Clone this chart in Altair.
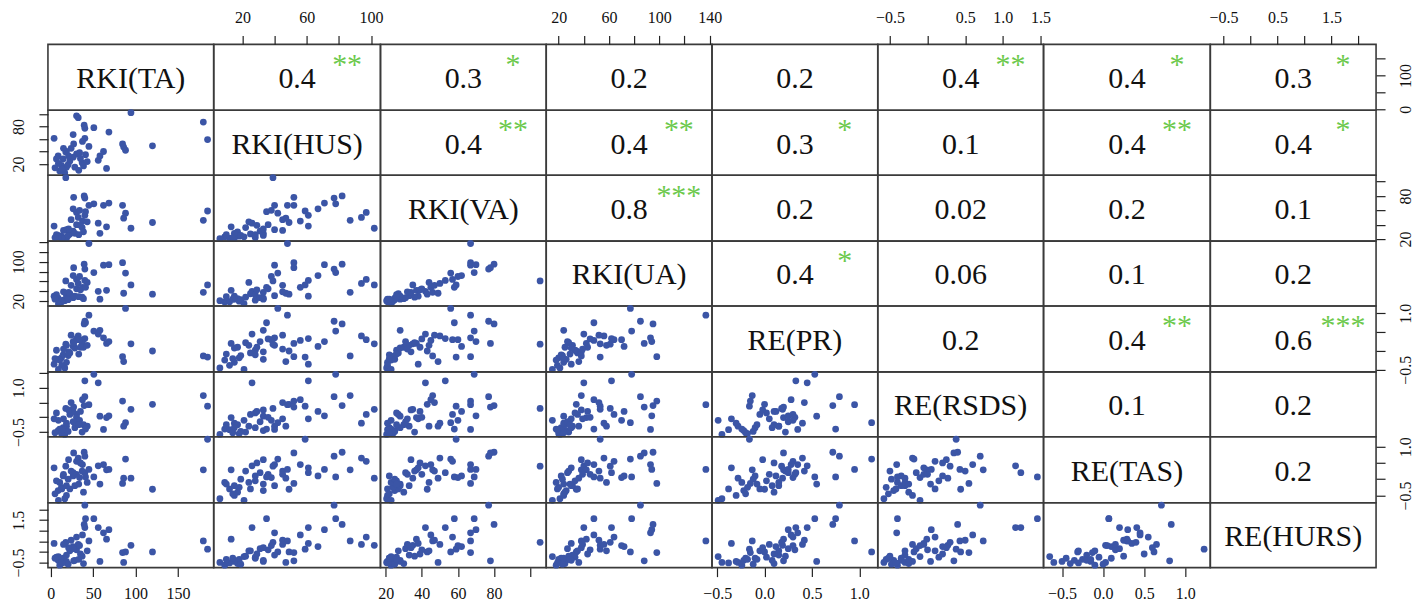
import altair as alt
import pandas as pd

# ---------------- data ----------------
names = ["RKI(TA)", "RKI(HUS)", "RKI(VA)", "RKI(UA)", "RE(PR)", "RE(RSDS)", "RE(TAS)", "RE(HURS)"]
keys = ["TA", "HUS", "VA", "UA", "PR", "RSDS", "TAS", "HURS"]

TA = [180, 185, 120, 94.6, 84.7, 88.2, 86, 50.8, 56, 58, 62.2, 65.8, 68.6, 30.4, 32.4, 39.4, 40.2,
      3.9, 26.4, 40.2, 37.4, 18.5, 8.7, 30.4, 14.6, 22.5, 37, 38.6, 12.6, 18.5, 10.6, 16.5, 6.7,
      26.4, 20.5, 28.4, 17.7, 24, 34, 13, 21, 43, 9, 35, 45, 5, 27, 15, 33, 41]
HUS = [87, 59, 49, 102, 52, 42, 47, 78, 26, 33, 40, 13, 71, 97, 94, 82, 77,
       61, 67, 61, 56, 40, 33, 36, 28, 25, 22, 17, 18, 15, 9, 6, 28,
       31, 19, 15, 39, 45, 38, 12, 33, 24, 21, 29, 48, 14, 52, 45, 10, 35]
VA = [46, 59, 43, 35, 67, 56, 49, 69, 42, 28, 67, 37, 70, 57, 50, 80, 77,
      38, 62, 53, 45, 33, 25, 40, 22, 27, 36, 30, 24, 21, 23, 20.5, 26,
      31, 25, 28, 105.5, 47, 60, 21, 34, 44, 23, 39, 67, 22, 78, 32, 26, 58]
UA = [38, 53, 34, 53, 98, 77, 36, 78, 40, 24, 93, 42, 94, 64, 56, 95, 85,
      30, 72, 62, 48, 31, 26, 45, 22, 35, 28, 25, 20, 24, 18, 21, 33,
      27, 23, 30, 61, 52, 70, 19, 38, 58, 15, 43, 137, 24, 88, 39, 29, 48]
PR = [-0.13, -0.16, 0.00, 0.19, -0.15, 1.13, -0.28, 0.53, 0.45, 0.55, 0.35, 0.20, 0.25, 0.30, 0.40, 0.72, 0.79,
      -0.35, 0.12, 0.33, 0.28, 0.15, -0.22, 0.32, -0.10, -0.05, 0.22, 0.10, -0.18, -0.30, -0.24, -0.45, 0.02,
      0.25, -0.12, 0.08, 0.18, 0.42, 0.30, -0.38, -0.02, 0.15, -0.49, 0.10, 0.95, -0.20, 0.20, 0.05, -0.08, 0.75]
RSDS = [0.74, 0.38, 0.44, 0.27, 0.55, -0.18, -0.30, 1.46, 1.17, 0.04, -0.41, -0.01, 0.05, 0.10, -0.20, 0.40, 0.70,
        -0.05, 0.20, 1.24, 0.60, -0.30, -0.45, 0.00, -0.35, 0.10, -0.50, -0.25, -0.55, -0.20, -0.40, -0.58, 0.15,
        -0.15, -0.48, -0.35, 0.30, 0.50, -0.10, -0.42, 0.25, -0.30, -0.10, 0.20, 0.43, -0.52, 0.35, -0.05, -0.25, -0.40]
TAS = [0.29, 1.23, -0.31, 0.03, -0.13, 0.62, 0.03, 0.07, 0.41, -0.15, 0.45, 0.29, 0.30, 0.55, 0.65, 0.83, 0.71,
       0.35, 0.10, 0.20, 0.45, -0.20, -0.35, 0.15, 0.10, -0.30, 0.25, -0.40, -0.25, -0.50, -0.10, -0.60, -0.05,
       0.20, 0.00, -0.20, 0.40, 0.25, 0.05, -0.30, 0.60, -0.10, -0.65, 0.50, 0.30, -0.45, 0.81, 0.15, -0.15, 0.07]
HURS = [0.52, 0.13, 0.00, 0.31, -0.03, 0.00, -0.50, 1.57, 1.15, -0.45, 0.90, 0.60, 1.05, 0.70, 0.35, 1.30, 2.21,
        0.40, 0.25, 1.15, 0.80, -0.15, -0.40, 0.10, -0.30, 0.05, -0.20, -0.55, -0.35, -0.45, -0.63, -0.50, -0.25,
        0.15, -0.58, -0.40, 0.45, 0.55, 0.30, -0.52, 0.20, 0.05, -0.22, -0.10, 0.52, -0.30, -0.42, 0.35, -0.35, 1.57]

# upper-triangle correlation texts and significance stars, row by row
corr_rows = [
    ["0.4", "0.3", "0.2", "0.2", "0.4", "0.4", "0.3"],
    ["0.4", "0.4", "0.3", "0.1", "0.4", "0.4"],
    ["0.8", "0.2", "0.02", "0.2", "0.1"],
    ["0.4", "0.06", "0.1", "0.2"],
    ["0.2", "0.4", "0.6"],
    ["0.1", "0.2"],
    ["0.2"],
]
star_rows = [
    ["**", "*", "", "", "**", "*", "*"],
    ["**", "**", "*", "", "**", "*"],
    ["***", "", "", "", ""],
    ["*", "", "", ""],
    ["", "**", "***"],
    ["", ""],
    [""],
]

# axis ticks and the labels that are printed on each side
ticks = {
    "TA": [0, 50, 100, 150],
    "HUS": [20, 40, 60, 80, 100],
    "VA": [20, 40, 60, 80, 100],
    "UA": [20, 40, 60, 80, 100, 120, 140],
    "PR": [-0.5, 0.0, 0.5, 1.0],
    "RSDS": [-0.5, 0.0, 0.5, 1.0, 1.5],
    "TAS": [-0.5, 0.0, 0.5, 1.0],
    "HURS": [-0.5, 0.0, 0.5, 1.0, 1.5, 2.0],
}
labels_bottom = {"TA": [0, 50, 100, 150], "VA": [20, 40, 60, 80], "PR": [-0.5, 0.0, 0.5, 1.0], "TAS": [-0.5, 0.0, 0.5, 1.0]}
labels_top = {"HUS": [20, 60, 100], "UA": [20, 60, 100, 140], "RSDS": [-0.5, 0.5, 1.0, 1.5], "HURS": [-0.5, 0.5, 1.5]}
labels_left = {"HUS": [20, 80], "UA": [20, 100], "RSDS": [-0.5, 1.0], "HURS": [-0.5, 1.5]}
labels_right = {"TA": [0, 100], "VA": [20, 80], "PR": [-0.5, 1.0], "TAS": [-0.5, 1.0]}
formats = {"TA": "d", "HUS": "d", "VA": "d", "UA": "d", "PR": ".1f", "RSDS": ".1f", "TAS": ".1f", "HURS": ".1f"}

df = pd.DataFrame({"TA": TA, "HUS": HUS, "VA": VA, "UA": UA, "PR": PR, "RSDS": RSDS, "TAS": TAS, "HURS": HURS})

# ---------------- style ----------------
COL_W = [166, 167, 166, 166, 166, 166, 167, 166]
ROW_H = [66, 65, 66, 65, 66, 65, 66, 65]
FONT = "Liberation Serif"
PT_COLOR = "#3B55A6"
STAR_COLOR = "#6CC94C"
TXT_Y = 0.47
STAR_Y = 0.69
PAD = {"bottom": 9, "top": 10, "left": 12, "right": 12}


def domain(k):
    lo, hi = min(df[k]), max(df[k])
    r = hi - lo
    return [lo - 0.04 * r, hi + 0.04 * r]


def make_axis(k, orient):
    labs = {"bottom": labels_bottom, "top": labels_top, "left": labels_left, "right": labels_right}[orient][k]
    kw = dict(
        orient=orient, values=ticks[k], format=formats[k],
        labelExpr="indexof(" + str(labs) + ", datum.value) >= 0 ? datum.label : ''",
        tickSize=9, labelPadding=PAD[orient], domain=False, grid=False,
        labelFont=FONT, labelFontSize=16, labelColor="#111111",
        tickColor="#222222", tickWidth=1.2, title=None,
        labelOverlap=False, labelFlush=False,
    )
    if orient == "left":
        kw.update(labelAngle=270, labelAlign="center", labelBaseline="bottom")
    elif orient == "right":
        kw.update(labelAngle=270, labelAlign="center", labelBaseline="top")
    return alt.Axis(**kw)


def xenc(k, ax):
    return alt.X(k + ":Q", scale=alt.Scale(domain=domain(k), nice=False, zero=False), axis=ax)


def yenc(k, ax):
    return alt.Y(k + ":Q", scale=alt.Scale(domain=domain(k), nice=False, zero=False), axis=ax)


def text_layer(txt, px, py, size, color):
    d = pd.DataFrame({"px": [px], "py": [py], "t": [txt]})
    return alt.Chart(d).mark_text(font=FONT, fontSize=size, color=color, baseline="middle", align="center").encode(
        x=alt.X("px:Q", scale=alt.Scale(domain=[0, 1]), axis=None),
        y=alt.Y("py:Q", scale=alt.Scale(domain=[0, 1]), axis=None),
        text="t:N",
    )


cells = []
for r in range(8):
    for c in range(8):
        kr, kc = keys[r], keys[c]
        if r > c:
            xa = make_axis(kc, "bottom") if (r == 7 and c % 2 == 0) else None
            ya = make_axis(kr, "left") if (c == 0 and r % 2 == 1) else None
            ch = alt.Chart(df).mark_circle(size=46, color=PT_COLOR, opacity=1).encode(
                x=xenc(kc, xa), y=yenc(kr, ya)
            )
        else:
            layers = []
            if r == c:
                layers.append(text_layer(names[r], 0.5, TXT_Y, 30, "#111111"))
            else:
                layers.append(text_layer(corr_rows[r][c - r - 1], 0.5, TXT_Y, 30, "#111111"))
                s = star_rows[r][c - r - 1]
                if s:
                    layers.append(text_layer(s, 0.8, STAR_Y, 30, STAR_COLOR))
            top = (r == 0 and c % 2 == 1)
            right = (c == 7 and r % 2 == 0)
            if top or right:
                enc = {}
                if top:
                    enc["x"] = xenc(kc, make_axis(kc, "top"))
                if right:
                    enc["y"] = yenc(kr, make_axis(kr, "right"))
                layers.append(alt.Chart(df).mark_point(opacity=0).encode(**enc))
            ch = alt.layer(*layers).resolve_scale(x="independent", y="independent")
        cells.append(ch.properties(width=COL_W[c], height=ROW_H[r]))

chart = alt.concat(*cells, columns=8, spacing=0, bounds="flush", align="each").properties(
    padding={"left": 2, "top": 0, "right": 5, "bottom": 2}, background="white"
).configure_view(stroke="#3a3a3a", strokeWidth=1.6)

chart.save("out.html", embed_options={"renderer": "svg", "actions": False})
